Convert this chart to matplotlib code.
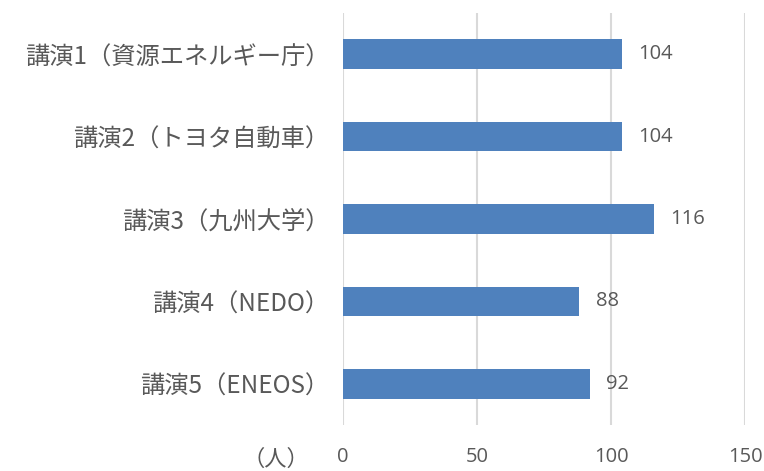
import matplotlib.pyplot as plt

plt.rcParams['font.family'] = ['Noto Sans CJK JP', 'DejaVu Sans']

labels = ['講演1（資源エネルギー庁）', '講演2（トヨタ自動車）', '講演3（九州大学）',
          '講演4（NEDO）', '講演5（ENEOS）']
values = [104, 104, 116, 88, 92]
ticks = [0, 50, 100, 150]

text_color = '#595959'
bar_color = '#4F81BD'

fig = plt.figure(figsize=(7.64, 4.71), dpi=100)
ax = fig.add_axes([343 / 764, 1 - 425 / 471, 402 / 764, 412 / 471])

ypos = list(range(len(labels)))
ax.barh(ypos, values, height=0.36, color=bar_color, zorder=3)
for y, v in zip(ypos, values):
    ax.annotate(str(v), (v, y), xytext=(12, 0), textcoords='offset points',
                va='center', ha='left', fontsize=14.5, color=text_color,
                family='Open Sans')

ax.set_xlim(0, 150)
ax.set_ylim(len(labels) - 0.5, -0.5)
ax.set_xticks(ticks)
ax.set_yticks(ypos)
ax.set_yticklabels(labels, fontsize=17.5, color=text_color)
ax.tick_params(axis='x', labelsize=14.5, colors=text_color, length=0, pad=16)
ax.tick_params(axis='y', length=0, pad=10)
for lab in ax.get_xticklabels():
    lab.set_family('Open Sans')
ax.grid(axis='x', color='#d9d9d9', linewidth=1.5, zorder=0)
for s in ax.spines.values():
    s.set_visible(False)

fig.text(276 / 764, 1 - 459 / 471, '（人）', fontsize=16, color=text_color,
         ha='center', va='center')

fig.savefig('out.png', dpi=100)
